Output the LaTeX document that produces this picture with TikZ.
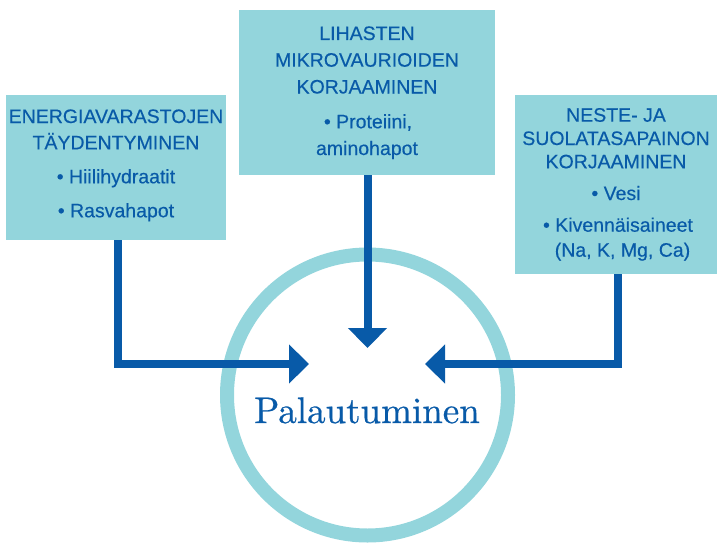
\documentclass[tikz,border=0pt]{standalone}
\usepackage{fontspec}
\setmainfont{Liberation Sans}[FakeBold=0.35]
\newfontfamily\titlefont{lmroman10-regular.otf}[FakeBold=0.6]
\usetikzlibrary{arrows.meta}
\definecolor{teal}{RGB}{147,213,220}
\definecolor{dblue}{RGB}{8,90,168}
\begin{document}
\begin{tikzpicture}[x=1pt,y=-1pt,
  box/.style={fill=teal,draw=none,inner sep=0pt,rectangle},
  txt/.style={anchor=base,inner sep=0pt,text=dblue,font=\fontsize{19.5}{23}\selectfont},
  arr/.style={draw=dblue,line width=8pt,-{Triangle[length=20pt,width=38pt]}},
  ring/.style={circle,draw=teal,line width=14pt,inner sep=0pt,minimum size=281pt},
  title/.style={anchor=base,inner sep=0pt,text=dblue,font=\titlefont\fontsize{37}{40}\selectfont}]
\useasboundingbox (0,0) rectangle (717,543);
% boxes
\node[box,minimum width=220pt,minimum height=145pt] (left) at (116,167.5) {};
\node[box,minimum width=256pt,minimum height=165pt] (mid) at (367,92.5) {};
\node[box,minimum width=202pt,minimum height=179pt] (right) at (616,184.5) {};
% circle
\node[ring] (rec) at (367.5,395) {};
\node[title] (rectext) at (367,423) {Palautuminen};
% left text
\node[txt] (l1) at (116,123) {ENERGIAVARASTOJEN};
\node[txt] (l2) at (116,149.3) {TÄYDENTYMINEN};
\node[txt] (l3) at (116,183.3) {•~Hiilihydraatit};
\node[txt] (l4) at (116,217.3) {•~Rasvahapot};
% middle text
\node[txt] (m1) at (367,40) {LIHASTEN};
\node[txt] (m2) at (367,66.7) {MIKROVAURIOIDEN};
\node[txt] (m3) at (367,93.5) {KORJAAMINEN};
\node[txt] (m4) at (368,128.3) {•~Proteiini,};
\node[txt] (m5) at (367,155) {aminohapot};
% right text
\node[txt] (r1) at (616,121.7) {NESTE-~JA};
\node[txt] (r2) at (616,145) {SUOLATASAPAINON};
\node[txt] (r3) at (616,168.3) {KORJAAMINEN};
\node[txt] (r4) at (616,200) {•~Vesi};
\node[txt] (r5) at (618,231.7) {•~Kivennäisaineet};
\node[txt] (r6) at (622.5,256.7) {(Na, K, Mg, Ca)};
% arrow tips
\coordinate (tipL) at (309,364);
\coordinate (tipM) at (367.5,348);
\coordinate (tipR) at (425,364);
\draw[arr] ([xshift=2pt]left.south) |- (tipL);
\draw[arr] ([xshift=0.5pt]mid.south) -- (tipM);
\draw[arr] ([xshift=2pt]right.south) |- (tipR);
\end{tikzpicture}
\end{document}
